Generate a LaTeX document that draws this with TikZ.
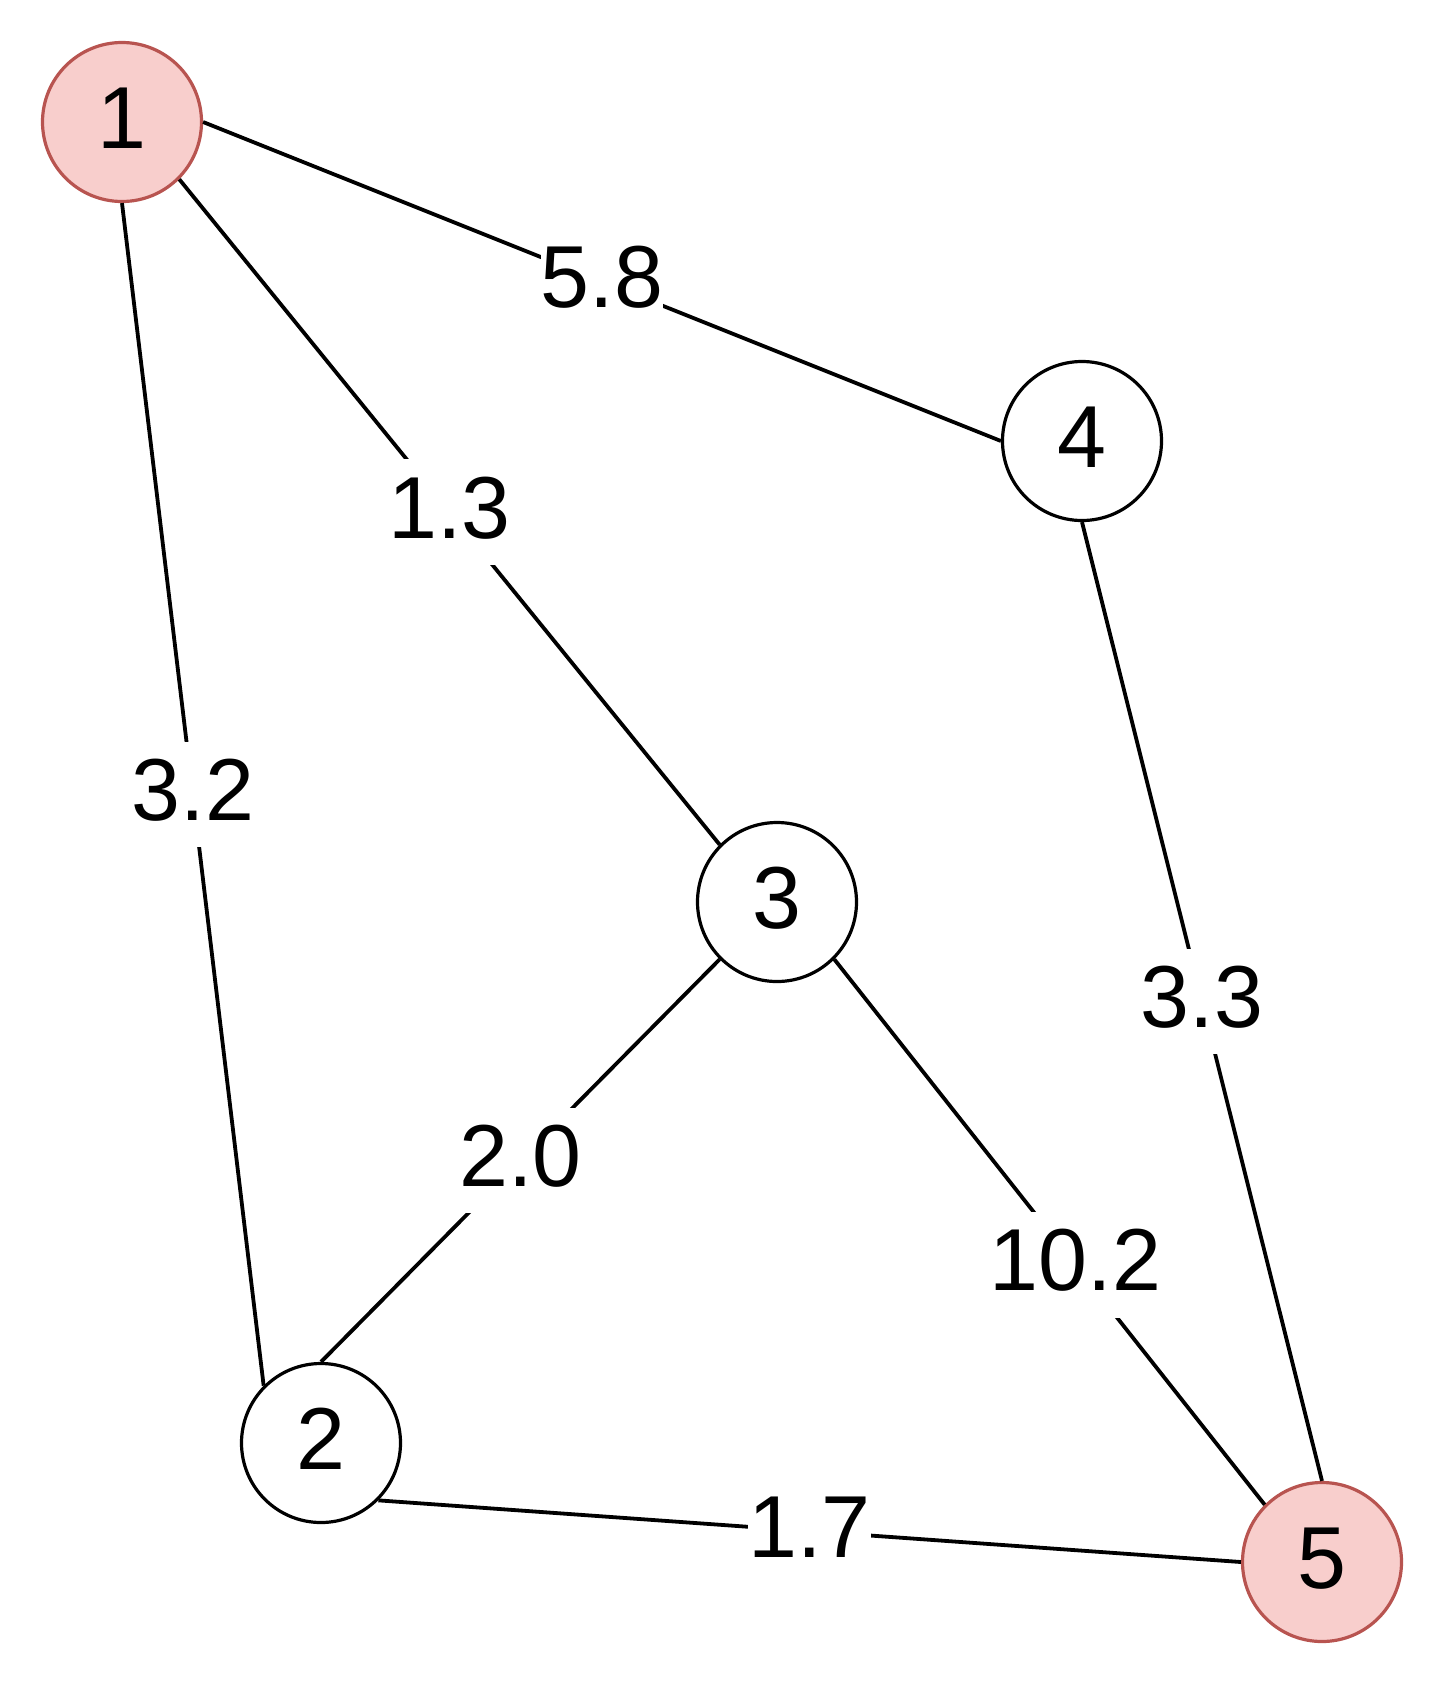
\documentclass[tikz,border=0pt]{standalone}
\usepackage{fontspec}
\setmainfont{Liberation Sans}
\usetikzlibrary{positioning}

\definecolor{markfill}{HTML}{F8CECC}
\definecolor{markdraw}{HTML}{B85450}

\begin{document}
\begin{tikzpicture}[
        x=0.5pt, y=-0.5pt,
        every node/.style={font=\fontsize{44pt}{52.8pt}\selectfont, text height=31.5pt, text depth=5.5pt},
        vertex/.style={draw, circle, line width=1.6pt, fill=white, minimum size=79.5pt, inner sep=0pt},
        marked/.style={vertex, draw=markdraw, fill=markfill},
        weight/.style={fill=white, inner xsep=0pt, inner ysep=0pt, minimum height=52.8pt},
        edge/.style={line width=1.9pt}
    ]
    \useasboundingbox (0,0) rectangle (1448,1688);

    % Define the vertices
    \node[marked] (n1) at (122,122) {1};
    \node[vertex] (n4) at (1082,441) {4};
    \node[vertex] (n3) at (777,902) {3};
    \node[vertex] (n2) at (321,1443) {2};
    \node[marked] (n5) at (1322,1562) {5};

    % Draw the weighted edges
    \draw[edge] (n1.east) -- node[weight] {5.8} (n4.west);
    \draw[edge] (n1.south east) -- node[weight] {1.3} (n3.north west);
    \draw[edge] (n1.south) -- node[weight] {3.2} (n2.north west);
    \draw[edge] (n3.south west) -- node[weight] {2.0} (n2.north);
    \draw[edge] (n3.south east) -- node[weight, pos=0.56] {10.2} (n5.north west);
    \draw[edge] (n4.south) -- node[weight] {3.3} (n5.north);
    \draw[edge] (n2.south east) -- node[weight] {1.7} (n5.west);

\end{tikzpicture}
\end{document}
